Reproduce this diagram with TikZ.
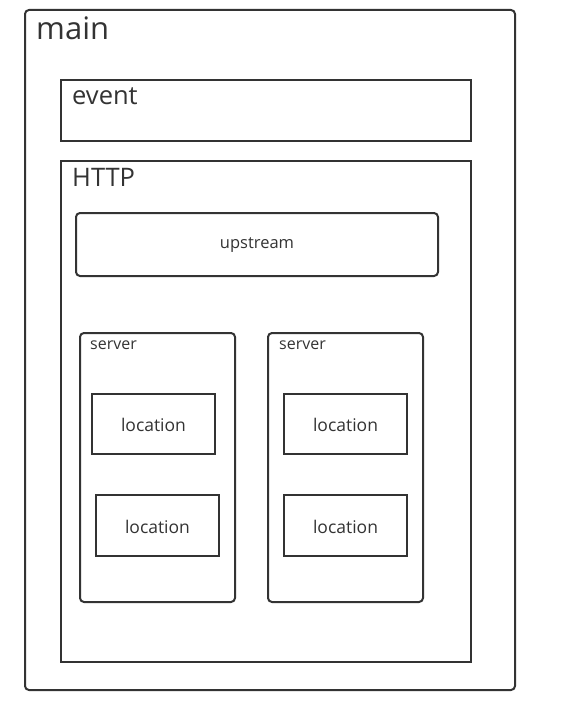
\documentclass[tikz,border=0pt]{standalone}
\usepackage{fontspec}
\setmainfont{Open Sans}
\definecolor{linegray}{HTML}{333333}
\definecolor{textgray}{HTML}{333333}
\tikzset{
  box/.style={draw=linegray, line width=2pt, inner sep=0pt, anchor=north west},
  roundbox/.style={box, rounded corners=4pt},
  title/.style={anchor=base west, inner sep=0pt, text=textgray},
  inner/.style={text=textgray, font=\fontsize{17.5}{21}\selectfont},
}

\begin{document}
\begin{tikzpicture}[x=1pt,y=-1pt]
    \useasboundingbox (0,0) rectangle (564,714);

    % outer blocks
    \node[roundbox, minimum width=490pt, minimum height=680pt] (main) at (24,9) {};
    \node[title, font=\fontsize{31}{36}\selectfont] (mainlbl) at (36,40) {main};
    \node[box, minimum width=410pt, minimum height=61pt] (event) at (60,79) {};
    \node[title, font=\fontsize{25.5}{30}\selectfont] (eventlbl) at (72,105) {event};
    \node[box, minimum width=410pt, minimum height=501pt] (http) at (60,160) {};
    \node[title, font=\fontsize{25.5}{30}\selectfont] (httplbl) at (72,186) {HTTP};

    % upstream
    \node[roundbox, minimum width=362pt, minimum height=63pt] (upstream) at (75,212) {};
    \node[inner, font=\fontsize{16.5}{20}\selectfont] (upstreamlbl) at ([yshift=-1pt]upstream.center) {upstream};

    % servers
    \node[roundbox, minimum width=155pt, minimum height=269pt] (serverA) at (79,332) {};
    \node[title, font=\fontsize{16}{19}\selectfont] (serverAlbl) at (90,349) {server};
    \node[roundbox, minimum width=155pt, minimum height=269pt] (serverB) at (267,332) {};
    \node[title, font=\fontsize{16}{19}\selectfont] (serverBlbl) at (279,349) {server};

    % locations
    \node[box, minimum width=123pt, minimum height=60pt] (locA1) at (91,393) {};
    \node[inner] (locA1lbl) at ([yshift=-1pt]locA1.center) {location};
    \node[box, minimum width=123pt, minimum height=61pt] (locA2) at (95,494) {};
    \node[inner] (locA2lbl) at ([yshift=-1pt]locA2.center) {location};
    \node[box, minimum width=123pt, minimum height=60pt] (locB1) at (283,393) {};
    \node[inner] (locB1lbl) at ([yshift=-1pt]locB1.center) {location};
    \node[box, minimum width=123pt, minimum height=61pt] (locB2) at (283,494) {};
    \node[inner] (locB2lbl) at ([yshift=-1pt]locB2.center) {location};
\end{tikzpicture}
\end{document}
